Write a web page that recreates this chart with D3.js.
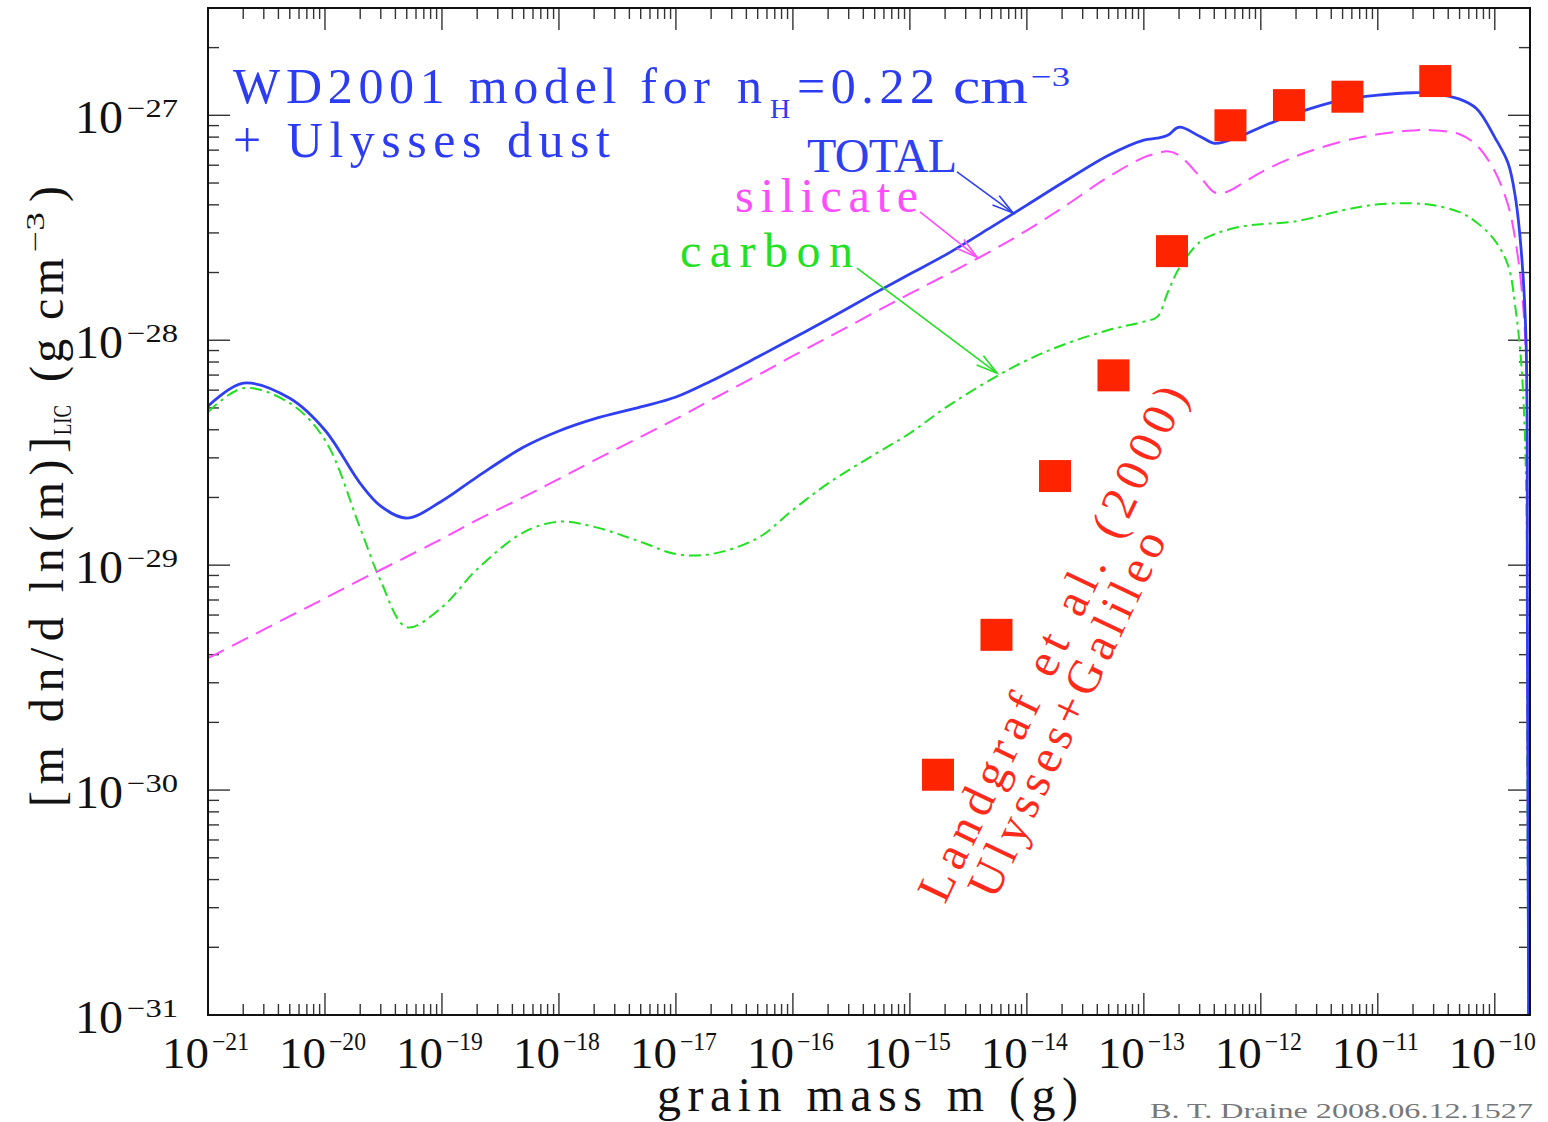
<!DOCTYPE html>
<html>
<head>
<meta charset="utf-8">
<script src="https://d3js.org/d3.v7.min.js"></script>
<style>
  body { margin: 0; background: #fff; }
  text { font-family: "Liberation Serif", "DejaVu Serif", serif; }
</style>
</head>
<body>
<svg id="chart" width="1548" height="1122"></svg>
<script>
// grain mass grid (g), shared by the three model curves
var mass = [1e-21, 2e-21, 5e-21, 1e-20, 2e-20, 3e-20,
            5e-20, 1e-19, 2e-19, 5e-19, 1e-18, 2e-18, 5e-18, 1e-17,
            2e-17, 5e-17, 1e-16, 2e-16, 5e-16, 1e-15, 2e-15, 5e-15, 1e-14, 2e-14, 5e-14, 1e-13,
            1.3e-13, 1.6e-13, 2e-13, 3e-13, 4e-13, 5e-13, 7e-13, 1e-12,
            2e-12, 5e-12, 1e-11, 2e-11, 3e-11, 5e-11, 7e-11,
            1e-10, 1.3e-10, 1.5e-10, 1.7e-10, 1.85e-10, 1.9e-10, 1.97e-10];

// m dn/dln(m) (g cm^-3)
var total = [5.09e-29, 6.44e-29, 5.52e-29, 3.98e-29, 2.31e-29, 1.83e-29,
             1.62e-29, 1.93e-29, 2.47e-29, 3.35e-29, 3.95e-29, 4.47e-29, 5.05e-29, 5.59e-29,
             6.59e-29, 8.42e-29, 1.02e-28, 1.24e-28, 1.62e-28, 1.97e-28, 2.39e-28, 3.19e-28, 3.99e-28, 5.00e-28, 6.65e-28, 7.76e-28,
             7.91e-28, 8.15e-28, 8.85e-28, 8.07e-28, 7.51e-28, 7.66e-28, 8.15e-28, 8.85e-28,
             1.02e-27, 1.17e-27, 1.23e-27, 1.26e-27, 1.25e-27, 1.18e-27, 1.07e-27,
             7.98e-28, 6.12e-28, 4.32e-28, 2.34e-28, 1.0e-28, 5.0e-30, 1.0e-32];

var silicate = [3.86e-30, 4.64e-30, 5.93e-30, 7.12e-30, 8.60e-30, 9.54e-30,
                1.09e-29, 1.31e-29, 1.59e-29, 2.01e-29, 2.42e-29, 2.92e-29, 3.72e-29, 4.47e-29,
                5.43e-29, 6.98e-29, 8.51e-29, 1.03e-28, 1.33e-28, 1.61e-28, 1.94e-28, 2.50e-28, 3.08e-28, 3.87e-28, 5.33e-28, 6.50e-28,
                6.78e-28, 6.92e-28, 6.64e-28, 5.36e-28, 4.55e-28, 4.55e-28, 4.99e-28, 5.58e-28,
                6.58e-28, 7.66e-28, 8.24e-28, 8.57e-28, 8.57e-28, 8.24e-28, 7.36e-28,
                5.64e-28, 3.98e-28, 2.78e-28, 1.67e-28, 8.15e-29, 3.0e-30, 1.0e-32];

var carbon = [4.79e-29, 6.12e-29, 5.25e-29, 3.60e-29, 1.46e-29, 8.50e-30,
              5.3e-30, 6.5e-30, 9.6e-30, 1.40e-29, 1.56e-29, 1.48e-29, 1.27e-29, 1.12e-29,
              1.12e-29, 1.32e-29, 1.76e-29, 2.31e-29, 3.11e-29, 3.86e-29, 5.00e-29, 6.72e-29, 8.15e-29, 9.50e-29, 1.11e-28, 1.21e-28,
              1.27e-28, 1.63e-28, 2.09e-28, 2.73e-28, 2.96e-28, 3.08e-28, 3.21e-28, 3.28e-28,
              3.38e-28, 3.78e-28, 4.02e-28, 4.06e-28, 3.98e-28, 3.71e-28, 3.34e-28,
              2.78e-28, 2.15e-28, 1.40e-28, 7.36e-29, 2.39e-29, 1.0e-30, 1.0e-32];

// Landgraf et al. (2000) Ulysses+Galileo points
var obsMass = [1.74e-15, 5.5e-15, 1.74e-14, 5.5e-14, 1.74e-13, 5.5e-13, 1.74e-12, 5.5e-12, 3.1e-11];
var obsRho  = [1.17e-30, 4.9e-30, 2.49e-29, 6.98e-29, 2.49e-28, 9.03e-28, 1.11e-27, 1.21e-27, 1.42e-27];

var xTickExp = [-21, -20, -19, -18, -17, -16, -15, -14, -13, -12, -11, -10];
var yTickExp = [-31, -30, -29, -28, -27];

var svg = d3.select("#chart");
svg.append("rect").attr("width", 1548).attr("height", 1122).attr("fill", "#fff");

var x = d3.scaleLog().domain([1e-21, 2e-10]).range([208, 1530]);
var y = d3.scaleLog().domain([1e-31, 3e-27]).range([1015, 8]);

var pLeft = x.range()[0], pRight = x.range()[1];
var pBottom = y.range()[0], pTop = y.range()[1];

svg.append("clipPath").attr("id", "plotclip")
    .append("rect")
    .attr("x", pLeft).attr("y", pTop)
    .attr("width", pRight - pLeft).attr("height", pBottom - pTop);

// log ticks, 1..9 per decade
function logTicks(dom) {
    var out = [];
    var e0 = Math.floor(Math.log10(dom[0])), e1 = Math.ceil(Math.log10(dom[1]));
    for (var e = e0; e <= e1; e++) {
        for (var j = 1; j < 10; j++) {
            var v = j * Math.pow(10, e);
            if (v >= dom[0] * 0.999 && v <= dom[1] * 1.001) out.push({ v: v, major: j === 1 });
        }
    }
    return out;
}

var ticks = svg.append("g").attr("stroke", "#333").attr("stroke-width", 1.4);
var xt = logTicks(x.domain()), yt = logTicks(y.domain());
xt.forEach(function (t) {
    var len = t.major ? 22 : 11, px = x(t.v);
    ticks.append("line").attr("x1", px).attr("x2", px).attr("y1", pBottom).attr("y2", pBottom - len);
    ticks.append("line").attr("x1", px).attr("x2", px).attr("y1", pTop).attr("y2", pTop + len);
});
yt.forEach(function (t) {
    var len = t.major ? 22 : 11, py = y(t.v);
    ticks.append("line").attr("y1", py).attr("y2", py).attr("x1", pLeft).attr("x2", pLeft + len);
    ticks.append("line").attr("y1", py).attr("y2", py).attr("x1", pRight).attr("x2", pRight - len);
});

// tick labels
var xl = svg.append("g").attr("fill", "#111");
xTickExp.forEach(function (e) {
    var px = x(Math.pow(10, e));
    xl.append("text").attr("x", px + 1).attr("y", 1068).attr("text-anchor", "end")
        .attr("font-size", 44).attr("textLength", 47).attr("lengthAdjust", "spacingAndGlyphs").text("10");
    xl.append("text").attr("x", px + 4).attr("y", 1050)
        .attr("font-size", 25).attr("textLength", 37).attr("lengthAdjust", "spacingAndGlyphs").text("\u2212" + (-e));
});
var yl = svg.append("g").attr("fill", "#111");
yTickExp.forEach(function (e) {
    var py = y(Math.pow(10, e));
    yl.append("text").attr("x", 123).attr("y", py + 18).attr("text-anchor", "end")
        .attr("font-size", 46).attr("textLength", 48).attr("lengthAdjust", "spacingAndGlyphs").text("10");
    yl.append("text").attr("x", 127).attr("y", py + 2)
        .attr("font-size", 26).attr("textLength", 51).attr("lengthAdjust", "spacingAndGlyphs").text("\u2212" + (-e));
});

// axis titles
svg.append("text").attr("x", 657).attr("y", 1111).attr("font-size", 48).attr("fill", "#111")
    .attr("textLength", 421).attr("lengthAdjust", "spacing").text("grain mass m (g)");
svg.append("text").attr("x", 1150).attr("y", 1118).attr("font-size", 21).attr("fill", "#777")
    .attr("textLength", 383).attr("lengthAdjust", "spacingAndGlyphs").text("B. T. Draine  2008.06.12.1527");

var ylab = svg.append("g").attr("transform", "rotate(-90)").attr("fill", "#111");
ylab.append("text").attr("x", -807).attr("y", 63).attr("font-size", 48)
    .attr("textLength", 370).attr("lengthAdjust", "spacing").text("[m dn/d ln(m)]");
ylab.append("text").attr("x", -435).attr("y", 71).attr("font-size", 26)
    .attr("textLength", 30).attr("lengthAdjust", "spacingAndGlyphs").text("LIC");
ylab.append("text").attr("x", -382).attr("y", 63).attr("font-size", 48)
    .attr("textLength", 124).attr("lengthAdjust", "spacing").text("(g cm");
ylab.append("text").attr("x", -252).attr("y", 44).attr("font-size", 26)
    .attr("textLength", 40).attr("lengthAdjust", "spacingAndGlyphs").text("\u22123");
ylab.append("text").attr("x", -202).attr("y", 63).attr("font-size", 48).text(")");

// curves
var plot = svg.append("g").attr("clip-path", "url(#plotclip)");
var line = d3.line()
    .x(function (d) { return x(d[0]); })
    .y(function (d) { return y(d[1]); })
    .curve(d3.curveCatmullRom.alpha(0.5));

function series(vals) { return mass.map(function (m, i) { return [m, vals[i]]; }); }

plot.append("path").attr("d", line(series(carbon)))
    .attr("fill", "none").attr("stroke", "#22e022").attr("stroke-width", 2)
    .attr("stroke-dasharray", "12,5,3,5");
plot.append("path").attr("d", line(series(silicate)))
    .attr("fill", "none").attr("stroke", "#ff4cff").attr("stroke-width", 2)
    .attr("stroke-dasharray", "18,9");
plot.append("path").attr("d", line(series(total)))
    .attr("fill", "none").attr("stroke", "#2f3ff2").attr("stroke-width", 2.8);

// data squares
plot.selectAll("rect.obs")
    .data(obsMass.map(function (m, i) { return [m, obsRho[i]]; }))
    .enter().append("rect").attr("class", "obs")
    .attr("x", function (d) { return x(d[0]) - 16; })
    .attr("y", function (d) { return y(d[1]) - 16; })
    .attr("width", 32).attr("height", 32)
    .attr("fill", "#ff2400");

// frame
svg.append("rect").attr("x", pLeft).attr("y", pTop)
    .attr("width", pRight - pLeft).attr("height", pBottom - pTop)
    .attr("fill", "none").attr("stroke", "#111").attr("stroke-width", 2);

// labels with arrows (tail / tip in data coordinates)
var arrows = [
    { tail: [2.53e-15, 5.60e-28], tip: [7.62e-15, 3.68e-28], color: "#2f3ff2" },
    { tail: [1.22e-15, 3.72e-28], tip: [3.75e-15, 2.34e-28], color: "#ff4cff" },
    { tail: [3.53e-16, 2.09e-28], tip: [5.56e-15, 7.14e-29], color: "#22e022" }
];
arrows.forEach(function (a) {
    var x0 = x(a.tail[0]), y0 = y(a.tail[1]), x1 = x(a.tip[0]), y1 = y(a.tip[1]);
    var ang = Math.atan2(y1 - y0, x1 - x0), L = 22, s = 0.26;
    var g = svg.append("g").attr("stroke", a.color).attr("stroke-width", 1.6).attr("fill", "none");
    g.append("line").attr("x1", x0).attr("y1", y0).attr("x2", x1).attr("y2", y1);
    g.append("path").attr("d",
        "M" + (x1 - L * Math.cos(ang - s)) + "," + (y1 - L * Math.sin(ang - s)) +
        "L" + x1 + "," + y1 +
        "L" + (x1 - L * Math.cos(ang + s)) + "," + (y1 - L * Math.sin(ang + s)));
});

svg.append("text").attr("x", 807).attr("y", 172).attr("font-size", 48).attr("fill", "#2f3ff2")
    .attr("textLength", 150).attr("lengthAdjust", "spacing").text("TOTAL");
svg.append("text").attr("x", 735).attr("y", 212).attr("font-size", 48).attr("fill", "#ff4cff")
    .attr("textLength", 183).attr("lengthAdjust", "spacing").text("silicate");
svg.append("text").attr("x", 680).attr("y", 267).attr("font-size", 48).attr("fill", "#22e022")
    .attr("textLength", 173).attr("lengthAdjust", "spacing").text("carbon");

// title
var blue = "#2b3cf4";
var t = svg.append("g").attr("fill", blue);
t.append("text").attr("x", 233).attr("y", 103).attr("font-size", 50)
    .attr("textLength", 477).attr("lengthAdjust", "spacing").text("WD2001 model for");
t.append("text").attr("x", 737).attr("y", 103).attr("font-size", 50).text("n");
t.append("text").attr("x", 770).attr("y", 118).attr("font-size", 28).text("H");
t.append("text").attr("x", 797).attr("y", 103).attr("font-size", 50)
    .attr("textLength", 138).attr("lengthAdjust", "spacing").text("=0.22");
t.append("text").attr("x", 953).attr("y", 103).attr("font-size", 50)
    .attr("textLength", 75).attr("lengthAdjust", "spacingAndGlyphs").text("cm");
t.append("text").attr("x", 1031).attr("y", 86).attr("font-size", 28)
    .attr("textLength", 39).attr("lengthAdjust", "spacingAndGlyphs").text("\u22123");
t.append("text").attr("x", 233).attr("y", 157).attr("font-size", 50)
    .attr("textLength", 377).attr("lengthAdjust", "spacing").text("+ Ulysses dust");

// rotated reference label
var red = "#ff2a1a";
svg.append("text").attr("transform", "translate(945,905) rotate(-64.5)")
    .attr("font-size", 48).attr("fill", red)
    .attr("textLength", 565).attr("lengthAdjust", "spacing").text("Landgraf et al. (2000)");
svg.append("text").attr("transform", "translate(995,901) rotate(-64.5)")
    .attr("font-size", 48).attr("fill", red)
    .attr("textLength", 400).attr("lengthAdjust", "spacing").text("Ulysses+Galileo");
</script>
</body>
</html>
